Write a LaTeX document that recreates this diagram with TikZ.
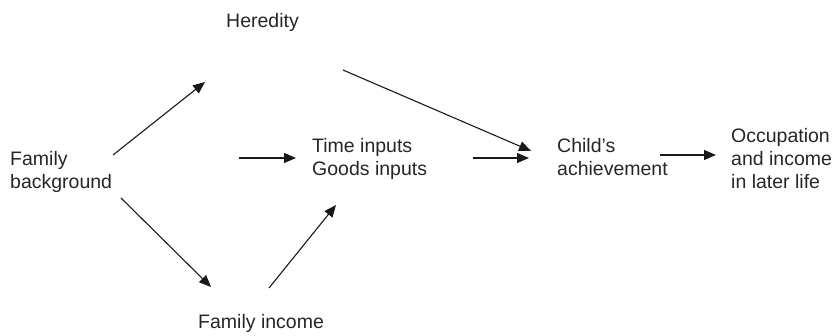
\documentclass[tikz,border=0pt]{standalone}
\usepackage{fontspec}
\setmainfont{Liberation Sans}
\usetikzlibrary{arrows.meta}
\begin{document}
\begin{tikzpicture}[x=1pt,y=-1pt,
  lbl/.style={inner sep=0pt, anchor=base west, align=left, text=black!85,
    font=\fontsize{19.5}{23}\selectfont},
  arr/.style={line width=1.1pt, black!90, -{Triangle[length=12pt,width=10pt]}}]
\useasboundingbox (0,0) rectangle (835,336);
\node[lbl] (her) at (226,28) {Heredity};
\node[lbl] (fam) at (10,189) {Family\\background};
\node[lbl] (inp) at (312,176) {Time inputs\\Goods inputs};
\node[lbl] (chi) at (557,176) {Child’s\\achievement};
\node[lbl] (occ) at (731,189) {Occupation\\and income\\in later life};
\node[lbl] (inc) at (198,329) {Family income};
\coordinate (a1s) at (113,155); \coordinate (a1e) at (205,82);
\coordinate (a2s) at (343,70);  \coordinate (a2e) at (531,151);
\coordinate (a3s) at (239,158); \coordinate (a3e) at (296,158);
\coordinate (a4s) at (473,158); \coordinate (a4e) at (529,158);
\coordinate (a5s) at (660,155); \coordinate (a5e) at (716,155);
\coordinate (a6s) at (121,198); \coordinate (a6e) at (211,287);
\coordinate (a7s) at (269,288); \coordinate (a7e) at (336,205);
\draw[arr] (a1s) -- (a1e);
\draw[arr] (a2s) -- (a2e);
\draw[arr] (a3s) -- (a3e);
\draw[arr] (a4s) -- (a4e);
\draw[arr] (a5s) -- (a5e);
\draw[arr] (a6s) -- (a6e);
\draw[arr] (a7s) -- (a7e);
\end{tikzpicture}
\end{document}
